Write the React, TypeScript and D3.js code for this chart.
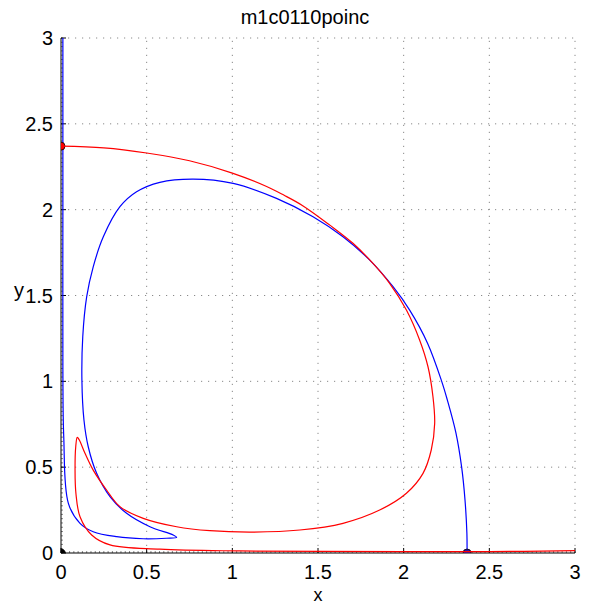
import React from "react";
import * as d3 from "d3";

const chartTitle = "m1c0110poinc";
const xLabel = "x";
const yLabel = "y";
const tickValues = [0, 0.5, 1, 1.5, 2, 2.5, 3];
const tickLabels = ["0", "0.5", "1", "1.5", "2", "2.5", "3"];

const bluePath: [number, number][] = [
  [2.370, 0.000], [2.369, 0.115], [2.358, 0.309], [2.338, 0.503], [2.305, 0.700],
  [2.255, 0.891], [2.222, 1.000], [2.140, 1.221], [2.035, 1.415],
  [1.938, 1.551], [1.802, 1.706], [1.646, 1.842], [1.471, 1.959], [1.258, 2.066],
  [1.005, 2.153], [0.771, 2.178], [0.577, 2.159], [0.441, 2.104], [0.344, 2.017],
  [0.247, 1.842], [0.188, 1.667], [0.150, 1.493], [0.127, 1.260], [0.122, 1.008],
  [0.134, 0.775], [0.159, 0.619], [0.208, 0.464], [0.286, 0.328], [0.383, 0.231],
  [0.519, 0.153], [0.655, 0.105], [0.675, 0.091], [0.616, 0.086], [0.480, 0.083],
  [0.325, 0.095], [0.188, 0.124], [0.111, 0.173], [0.043, 0.289], [0.016, 0.677],
  [0.011, 1.066], [0.011, 2.0], [0.011, 3.0],
];

const redPath: [number, number][] = [
  [0.000, 2.370], [0.250, 2.360], [0.500, 2.330], [0.750, 2.285], [1.000, 2.213],
  [1.200, 2.135], [1.300, 2.085], [1.413, 2.022],
  [1.569, 1.910], [1.704, 1.804], [1.821, 1.687], [1.918, 1.571], [2.016, 1.415],
  [2.093, 1.241], [2.142, 1.085], [2.171, 0.910], [2.181, 0.755], [2.161, 0.600],
  [2.113, 0.464], [2.016, 0.348], [1.860, 0.250], [1.646, 0.173], [1.394, 0.134],
  [1.121, 0.122], [0.869, 0.130], [0.675, 0.153], [0.480, 0.202], [0.344, 0.270],
  [0.266, 0.367], [0.188, 0.483], [0.140, 0.581], [0.107, 0.658], [0.095, 0.674],
  [0.086, 0.619], [0.082, 0.483], [0.087, 0.348], [0.111, 0.211], [0.179, 0.105],
  [0.286, 0.047], [0.577, 0.022], [1.044, 0.012], [2.000, 0.008], [2.500, 0.008],
  [3.000, 0.014],
];

const markerX = [0, 2.37, 0];
const markerY = [2.37, 0, 0];

const W = 601, H = 606;
const L = 61, R = 575, T = 38, B = 553;
const FONT = "'Liberation Sans', Arial, Helvetica, sans-serif";

export default function App() {
  const x = d3.scaleLinear().domain([0, 3]).range([L, R]);
  const y = d3.scaleLinear().domain([0, 3]).range([B, T]);
  const line = d3
    .line<[number, number]>()
    .x((d) => x(d[0]))
    .y((d) => y(d[1]))
    .curve(d3.curveCatmullRom.alpha(0.5));

  const minor = d3.range(0, 3.0001, 0.025);
  const markerFill = ["#ff0000", "#2a0fa0", "#000000"];

  return (
    <div style={{ position: "absolute", left: 0, top: 0 }}>
      <svg width={W} height={H} style={{ display: "block", background: "#fff" }}>
        <defs>
          <clipPath id="plotclip">
            <rect x={L} y={T} width={R - L} height={B - T} />
          </clipPath>
        </defs>
        {/* grid */}
        {tickValues.map((t, i) => (
          <g key={"g" + i}>
            {i > 0 && (
              <line x1={x(t)} x2={x(t)} y1={B} y2={T} stroke="#8a8a8a" strokeWidth={1} strokeDasharray="1.2,5.8" />
            )}
            {i > 0 && (
              <line x1={L} x2={R} y1={y(t)} y2={y(t)} stroke="#8a8a8a" strokeWidth={1} strokeDasharray="1.2,5.8" />
            )}
          </g>
        ))}
        {/* minor ticks */}
        {minor.map((m, i) => (
          <g key={"m" + i}>
            <line x1={x(m)} x2={x(m)} y1={B} y2={B - 2} stroke="#666" strokeWidth={0.8} />
            <line x1={L} x2={L + 2} y1={y(m)} y2={y(m)} stroke="#666" strokeWidth={0.8} />
          </g>
        ))}
        {/* major ticks */}
        {tickValues.map((t, i) => (
          <g key={"t" + i}>
            <line x1={x(t)} x2={x(t)} y1={B} y2={B - 5} stroke="#000" strokeWidth={1} />
            <line x1={L} x2={L + 5} y1={y(t)} y2={y(t)} stroke="#000" strokeWidth={1} />
          </g>
        ))}
        {/* axes */}
        <line x1={L} x2={L} y1={T} y2={B} stroke="#000" strokeWidth={1} />
        <line x1={L} x2={R} y1={B} y2={B} stroke="#000" strokeWidth={1} />

        <g clipPath="url(#plotclip)">
          <path d={line(bluePath) || ""} fill="none" stroke="#0000ff" strokeWidth={1.2} />
          {markerX.map((mx, i) => (
            <circle key={"c" + i} cx={x(mx)} cy={y(markerY[i])} r={4} fill={markerFill[i]} stroke="#000" strokeWidth={0.8} />
          ))}
          <path d={line(redPath) || ""} fill="none" stroke="#ff0000" strokeWidth={1.2} />
        </g>

        {/* tick labels */}
        {tickValues.map((t, i) => (
          <text key={"xl" + i} x={x(t)} y={579} textAnchor="middle" fontFamily={FONT} fontSize={20} fill="#000">
            {tickLabels[i]}
          </text>
        ))}
        {tickValues.map((t, i) => (
          <text key={"yl" + i} x={53} y={y(t) + 7} textAnchor="end" fontFamily={FONT} fontSize={20} fill="#000">
            {tickLabels[i]}
          </text>
        ))}
        <text x={318} y={601} textAnchor="middle" fontFamily={FONT} fontSize={18} fill="#000">
          {xLabel}
        </text>
        <text x={19} y={297} textAnchor="middle" fontFamily={FONT} fontSize={20} fill="#000">
          {yLabel}
        </text>
        <text x={305} y={24} textAnchor="middle" fontFamily={FONT} fontSize={20} fill="#000">
          {chartTitle}
        </text>
      </svg>
    </div>
  );
}
